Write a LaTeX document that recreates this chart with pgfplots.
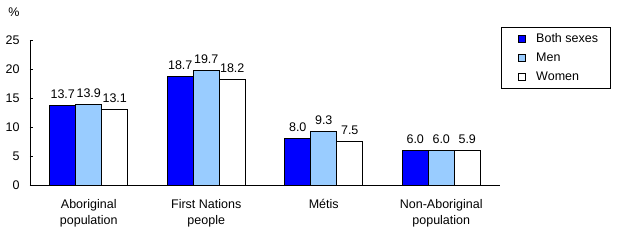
\documentclass[border=0pt]{standalone}
\usepackage{pgfplots}
\pgfplotsset{compat=1.18}
\usepackage{fontspec}
\setmainfont{Liberation Sans}
\definecolor{dblue}{HTML}{0000FF}
\definecolor{lblue}{HTML}{99CCFF}
\newcommand{\fs}{\fontsize{12.5}{16}\selectfont}
\begin{document}
\begin{tikzpicture}[x=1pt,y=1pt]
\path[use as bounding box] (0,0) rectangle (625,246);
\node[font=\fs] at (14,234) {\%};
\begin{axis}[
  at={(30pt,61pt)}, anchor=south west,
  scale only axis, width=470pt, height=145pt,
  ymin=0, ymax=25, ytick={0,5,...,25},
  xmin=-0.5, xmax=3.5, xtick={0,1,2,3},
  xticklabels={{Aboriginal\\population},{First Nations\\people},{Métis},{Non-Aboriginal\\population}},
  axis x line*=bottom, axis y line*=left,
  axis line style={-, line width=0.9pt, black},
  tick align=inside, major tick length=3pt,
  ytick style={line width=0.9pt, black},
  xtick style={draw=none},
  /pgf/number format/assume math mode=true,
  yticklabel style={font=\fs, xshift=-7pt},
  xticklabel style={font=\fs, align=center, yshift=-8pt},
  ybar=0pt, bar width=26pt,
  every axis plot/.append style={draw=black, line width=0.9pt},
  nodes near coords,
  every node near coord/.append style={font=\fs, yshift=3pt, /pgf/number format/fixed, /pgf/number format/fixed zerofill, /pgf/number format/precision=1},
  legend style={at={(1.002,1.09)}, anchor=north west, draw=black, line width=0.9pt, font=\fs, inner xsep=10pt, inner ysep=4pt, column sep=8pt, row sep=5pt},
  legend cell align=left,
  legend image code/.code={\path (0pt,0pt); \draw[#1, line width=0.8pt] (7pt,-3.5pt) rectangle (14pt,3.5pt);},
]
\addplot[fill=dblue] coordinates {(0,13.7) (1,18.7) (2,8.0) (3,6.0)};
\addplot[fill=lblue] coordinates {(0,13.9) (1,19.7) (2,9.3) (3,6.0)};
\addplot[fill=white] coordinates {(0,13.1) (1,18.2) (2,7.5) (3,5.9)};
\legend{Both sexes, Men, Women}
\end{axis}
\end{tikzpicture}
\end{document}
